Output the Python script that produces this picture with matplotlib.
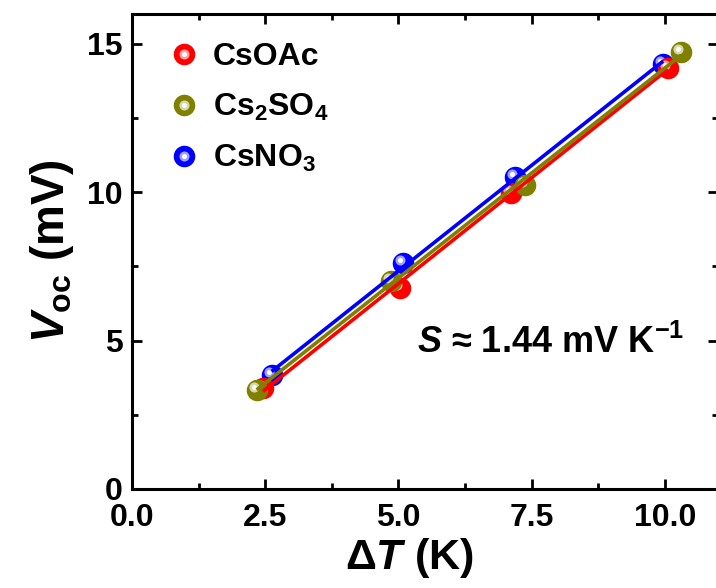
import numpy as np
import matplotlib
matplotlib.use("Agg")
import matplotlib.pyplot as plt
from matplotlib.legend_handler import HandlerTuple
from matplotlib.ticker import MultipleLocator
import matplotlib.transforms as mtransforms

plt.rcParams['font.family'] = 'Liberation Sans'
plt.rcParams['font.weight'] = 'bold'
plt.rcParams['mathtext.fontset'] = 'custom'
plt.rcParams['mathtext.rm'] = 'Liberation Sans:bold'
plt.rcParams['mathtext.it'] = 'Liberation Sans:bold:italic'
plt.rcParams['mathtext.bf'] = 'Liberation Sans:bold'
plt.rcParams['xtick.direction'] = 'in'
plt.rcParams['ytick.direction'] = 'in'

# data
labels = ["CsOAc", "Cs$_2$SO$_4$", "CsNO$_3$"]
colors = ["#ff0000", "#808000", "#0000ff"]
light = ["#ffa0a0", "#d8d8b0", "#a0a0ff"]

dT_csoac = [2.46, 5.03, 7.12, 10.06]
voc_csoac = [3.40, 6.78, 9.97, 14.18]
dT_cs2so4 = [2.34, 4.86, 7.37, 10.31]
voc_cs2so4 = [3.34, 7.02, 10.25, 14.71]
dT_csno3 = [2.62, 5.09, 7.19, 9.97]
voc_csno3 = [3.85, 7.60, 10.52, 14.33]

xs = [dT_csoac, dT_cs2so4, dT_csno3]
ys = [voc_csoac, voc_cs2so4, voc_csno3]

MS = 14.5

fig = plt.figure(figsize=(7.16, 5.88), dpi=100)
ax = fig.add_axes([132/716, 1-489/588, 586/716, 475/588])

# spheres: base circle + lighter offset highlight
hl = mtransforms.offset_copy(ax.transData, fig=fig, x=-3, y=3, units='dots')
for i in [2, 0, 1]:
    ax.plot(xs[i], ys[i], 'o', ms=MS, color=colors[i], mec=colors[i], zorder=2)
    ax.plot(xs[i], ys[i], 'o', ms=MS*0.5, color=light[i], mec='none', transform=hl, zorder=2)
    ax.plot(xs[i], ys[i], 'o', ms=MS*0.25, color='white', mec='none', transform=hl, zorder=2)

for i in [0, 1, 2]:
    k, b = np.polyfit(xs[i], ys[i], 1)
    xf = np.array([min(xs[i]), max(xs[i])])
    ax.plot(xf, k*xf + b, '-', color=colors[i], lw=2.6, zorder=3, solid_capstyle='butt')

handles = []
for i in range(3):
    h1, = ax.plot([], [], 'o', ms=MS, color=colors[i])
    h2, = ax.plot([], [], 'o', ms=MS*0.5, color=light[i], mec='none')
    h3, = ax.plot([], [], 'o', ms=MS*0.25, color='white', mec='none')
    handles.append((h1, h2, h3))

ax.legend(handles, labels, handler_map={tuple: HandlerTuple(ndivide=1)},
          loc='upper left', frameon=False, fontsize=23, handlelength=0.8,
          handletextpad=0.5, labelspacing=0.62, borderaxespad=0.0,
          bbox_to_anchor=(0.045, 0.967))

ax.text(5.35, 4.58, "$\\mathit{S}$ ≈ 1.44 mV K$^{\\mathregular{-1}}$", fontsize=26,
        fontweight='bold', ha='left', va='baseline')

ax.set_xlim(0, 11)
ax.set_ylim(0, 16)
ax.xaxis.set_major_locator(MultipleLocator(2.5))
ax.xaxis.set_minor_locator(MultipleLocator(1.25))
ax.yaxis.set_major_locator(MultipleLocator(5))
ax.yaxis.set_minor_locator(MultipleLocator(2.5))
ax.tick_params(which='both', top=True, right=True, width=2, labelsize=23)
ax.tick_params(axis='x', pad=10)
ax.tick_params(axis='y', pad=7)
ax.tick_params(which='major', length=7)
ax.tick_params(which='minor', length=4)
for s in ax.spines.values():
    s.set_linewidth(2.2)

ax.set_xlabel("Δ$\\mathit{T}$ (K)", fontsize=31, fontweight='bold')
ax.xaxis.set_label_coords(0.474, -0.1, transform=ax.transAxes)
ax.set_ylabel("$\\mathit{V}_{\\mathregular{oc}}$ (mV)", fontsize=33, fontweight='bold', labelpad=8)

fig.savefig("out.png", dpi=100)
